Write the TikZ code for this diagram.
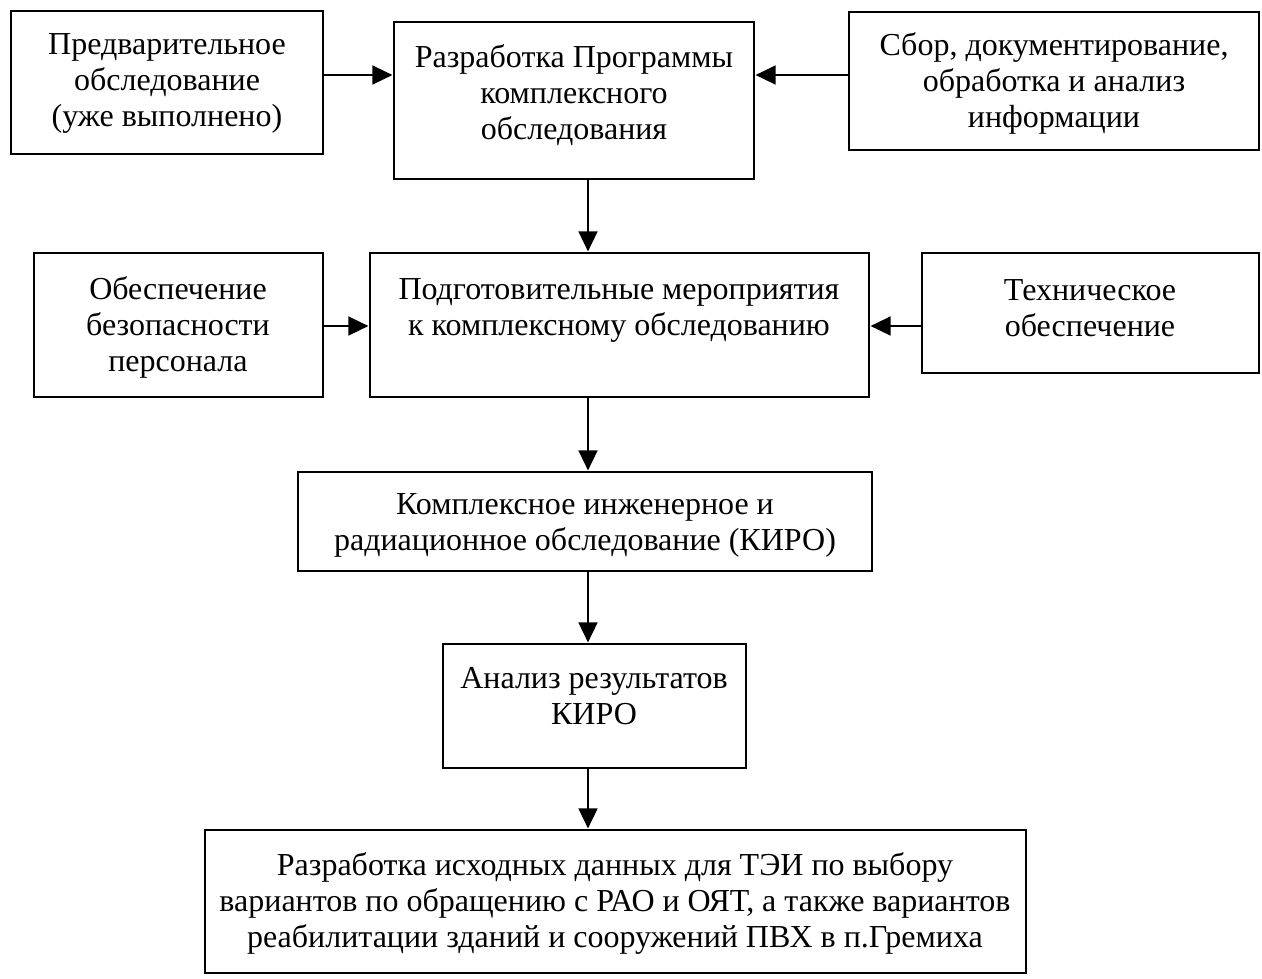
\documentclass[tikz,border=0pt]{standalone}
\usepackage{fontspec}
\setmainfont{Liberation Serif}
\usetikzlibrary{arrows.meta}
\tikzset{
  box/.style={draw=black, line width=1.6pt, rectangle, inner sep=0pt, fill=white},
  txt/.style={align=center, inner sep=0pt, font=\fontsize{32}{36}\selectfont},
  arr/.style={line width=1.6pt, -{Triangle[length=20pt,width=19pt]}, shorten >=0.8pt}
}
\newcommand{\boxat}[5]{% name, x1, y1, x2, y2
  \node[box, minimum width={#4-#2}, minimum height={#5-#3}] (#1) at ({(#2+#4)/2},{(#3+#5)/2}) {};
}
\begin{document}
\begin{tikzpicture}[x=1pt,y=-1pt]
\useasboundingbox (0,0) rectangle (1262,978);
% row 1
\boxat{b1}{11}{11}{323}{154}
\boxat{b2}{394}{22}{754}{179}
\boxat{b3}{849}{12}{1259}{150}
\node[txt] (t1) at (167,83) {Предварительное\\обследование\\(уже выполнено)};
\node[txt] (t2) at (574,95) {Разработка Программы\\комплексного\\обследования};
\node[txt] (t3) at (1054,83) {Сбор, документирование,\\обработка и анализ\\информации};
% row 2
\boxat{b4}{34}{253}{323}{397}
\boxat{b5}{370}{253}{869}{397}
\boxat{b6}{922}{253}{1259}{373}
\node[txt] (t4) at (178,327) {Обеспечение\\безопасности\\персонала};
\node[txt] (t5) at (619,310) {Подготовительные мероприятия\\к комплексному обследованию};
\node[txt] (t6) at (1090,308) {Техническое\\обеспечение};
% row 3-5
\boxat{b7}{298}{472}{872}{571}
\node[txt] (t7) at (585,525) {Комплексное инженерное и\\радиационное обследование (КИРО)};
\boxat{b8}{443}{644}{746}{768}
\node[txt] (t8) at (594,696) {Анализ результатов\\КИРО};
\boxat{b9}{205}{830}{1026}{973}
\node[txt] (t9) at (615,903) {Разработка исходных данных для ТЭИ по выбору\\вариантов по обращению с РАО и ОЯТ, а также вариантов\\реабилитации зданий и сооружений ПВХ в п.Гремиха};
% connectors
\coordinate (a1) at (b1.east |- 0,75);
\draw[arr] (a1) -- (a1 -| b2.west);
\coordinate (a2) at (b3.west |- 0,75);
\draw[arr] (a2) -- (a2 -| b2.east);
\coordinate (a3) at (b4.east |- 0,326);
\draw[arr] (a3) -- (a3 -| b5.west);
\coordinate (a4) at (b6.west |- 0,326);
\draw[arr] (a4) -- (a4 -| b5.east);
\coordinate (c1) at (588,0);
\draw[arr] (c1 |- b2.south) -- (c1 |- b5.north);
\draw[arr] (c1 |- b5.south) -- (c1 |- b7.north);
\draw[arr] (c1 |- b7.south) -- (c1 |- b8.north);
\draw[arr] (c1 |- b8.south) -- (c1 |- b9.north);
\end{tikzpicture}
\end{document}
